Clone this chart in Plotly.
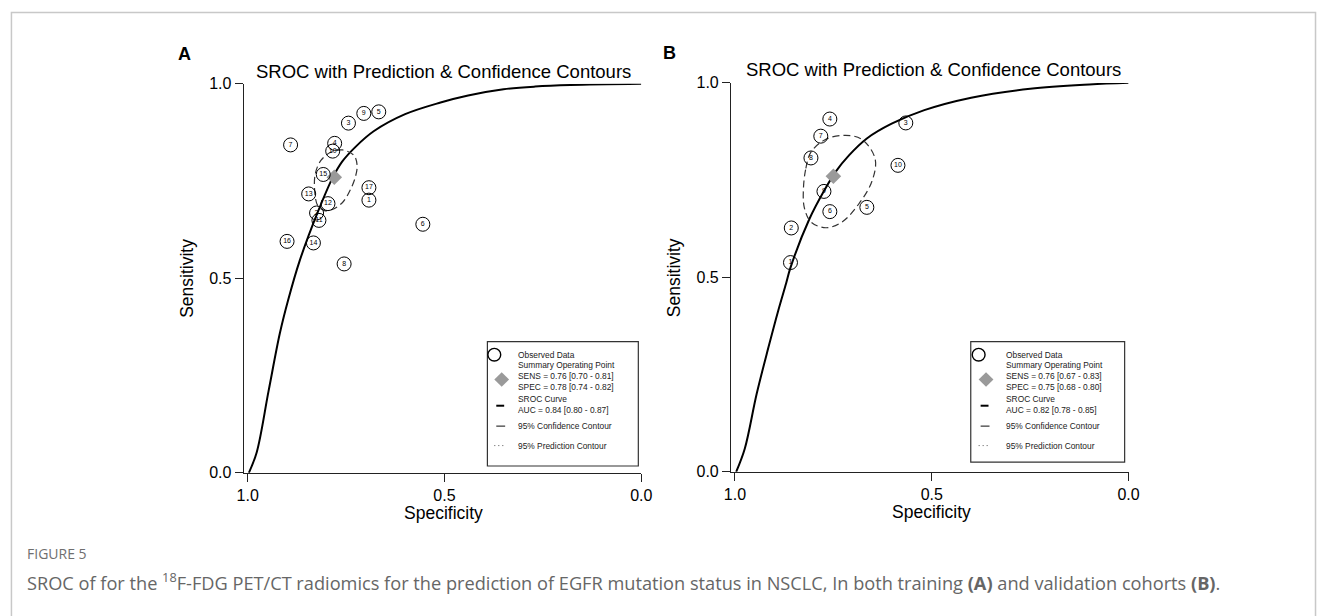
import plotly.graph_objects as go

W, H = 1328, 616

# ---------------- data ----------------
# Panel A: training cohort, 17 studies
a_ids = [str(i) for i in range(1, 18)]
a_spec = [0.692, 0.825, 0.744, 0.779, 0.667, 0.555, 0.891, 0.755, 0.705, 0.784,
          0.819, 0.796, 0.845, 0.833, 0.808, 0.900, 0.692]
a_sens = [0.701, 0.668, 0.899, 0.847, 0.928, 0.639, 0.843, 0.537, 0.924, 0.827,
          0.649, 0.692, 0.717, 0.591, 0.767, 0.595, 0.733]
a_sum_spec = [0.78]
a_sum_sens = [0.76]
a_curve_spec = [0.997, 0.977, 0.947, 0.918, 0.897, 0.868, 0.822, 0.785, 0.76, 0.726,
                0.68, 0.60, 0.51, 0.44, 0.35, 0.27, 0.18, 0.0]
a_curve_sens = [0.0, 0.053, 0.21, 0.36, 0.445, 0.545, 0.67, 0.757, 0.80, 0.838,
                0.878, 0.922, 0.952, 0.970, 0.986, 0.993, 0.997, 1.0]
a_ell_spec = [0.830, 0.828, 0.814, 0.789, 0.759, 0.730, 0.722, 0.726, 0.739, 0.759,
              0.785, 0.805, 0.822, 0.830]
a_ell_sens = [0.728, 0.770, 0.803, 0.824, 0.830, 0.816, 0.791, 0.762, 0.728, 0.695,
              0.677, 0.674, 0.687, 0.728]
a_legend = ["Observed Data",
            "Summary Operating Point<br>SENS = 0.76 [0.70 - 0.81]<br>SPEC = 0.78 [0.74 - 0.82]",
            "SROC Curve<br>AUC = 0.84 [0.80 - 0.87]",
            "95% Confidence Contour", "95% Prediction Contour"]

# Panel B: validation cohort, 10 studies
b_ids = [str(i) for i in range(1, 11)]
b_spec = [0.859, 0.857, 0.566, 0.759, 0.665, 0.759, 0.782, 0.807, 0.774, 0.586]
b_sens = [0.538, 0.627, 0.897, 0.907, 0.680, 0.669, 0.863, 0.807, 0.721, 0.788]
b_sum_spec = [0.75]
b_sum_sens = [0.76]
b_curve_spec = [0.997, 0.975, 0.945, 0.915, 0.89, 0.87, 0.859, 0.811, 0.774, 0.744,
                0.711, 0.665, 0.602, 0.519, 0.40, 0.25, 0.10, 0.0]
b_curve_sens = [0.0, 0.06, 0.2, 0.32, 0.415, 0.485, 0.525, 0.65, 0.722, 0.772,
                0.813, 0.857, 0.895, 0.93, 0.962, 0.985, 0.996, 1.0]
b_ell_spec = [0.826, 0.820, 0.807, 0.769, 0.719, 0.678, 0.644, 0.652, 0.686, 0.728,
              0.769, 0.807, 0.824, 0.826]
b_ell_sens = [0.730, 0.780, 0.822, 0.855, 0.865, 0.855, 0.805, 0.747, 0.688, 0.6425,
              0.6275, 0.6425, 0.680, 0.730]
b_legend = ["Observed Data",
            "Summary Operating Point<br>SENS = 0.76 [0.67 - 0.83]<br>SPEC = 0.75 [0.68 - 0.80]",
            "SROC Curve<br>AUC = 0.82 [0.78 - 0.85]",
            "95% Confidence Contour", "95% Prediction Contour"]

tick_vals = [1.0, 0.5, 0.0]
tick_text = ["1.0", "0.5", "0.0"]
title_text = "SROC with Prediction &amp; Confidence Contours"

# ---------------- helpers ----------------
def px(x):
    return x / W

def py(y):
    return 1 - y / H

FONT = "Liberation Sans, Arial, sans-serif"

fig = go.Figure()

panels = [
    dict(xa="x", ya="y", ids=a_ids, spec=a_spec, sens=a_sens, ss=a_sum_spec, se=a_sum_sens,
         cs=a_curve_spec, ce=a_curve_sens, es=a_ell_spec, ee=a_ell_sens, leg=a_legend,
         xdom=(240, 643), ydom=(78, 478), letter="A", letter_pos=(180, 47),
         title_pos=(443, 65), xt_pos=(443, 519), yt_pos=(183, 278),
         box=(487, 343, 640, 471), icon_x=494, text_x=516),
    dict(xa="x2", ya="y2", ids=b_ids, spec=b_spec, sens=b_sens, ss=b_sum_spec, se=b_sum_sens,
         cs=b_curve_spec, ce=b_curve_sens, es=b_ell_spec, ee=b_ell_sens, leg=b_legend,
         xdom=(734, 1137), ydom=(77, 477), letter="B", letter_pos=(672, 46),
         title_pos=(939, 63), xt_pos=(937, 518), yt_pos=(677, 277),
         box=(977, 343, 1133, 467), icon_x=985, text_x=1011),
]

annotations = []
shapes = []

for p in panels:
    # SROC curve
    fig.add_trace(go.Scatter(x=p["cs"], y=p["ce"], xaxis=p["xa"], yaxis=p["ya"], mode="lines",
                             line=dict(color="black", width=2, shape="spline", smoothing=1.0),
                             cliponaxis=False, showlegend=False, hoverinfo="skip"))
    # Confidence contour
    fig.add_trace(go.Scatter(x=p["es"], y=p["ee"], xaxis=p["xa"], yaxis=p["ya"], mode="lines",
                             line=dict(color="#333333", width=1.2, dash="7px,4px",
                                       shape="spline", smoothing=1.0),
                             cliponaxis=False, showlegend=False, hoverinfo="skip"))
    # Summary point
    fig.add_trace(go.Scatter(x=p["ss"], y=p["se"], xaxis=p["xa"], yaxis=p["ya"], mode="markers",
                             marker=dict(symbol="diamond", size=12, color="#9a9a9a",
                                         line=dict(width=0)),
                             cliponaxis=False, showlegend=False, hoverinfo="skip"))
    # Observed studies
    fig.add_trace(go.Scatter(x=p["spec"], y=p["sens"], xaxis=p["xa"], yaxis=p["ya"],
                             mode="markers+text", text=p["ids"], textposition="middle center",
                             textfont=dict(size=7, color="black", family=FONT),
                             marker=dict(symbol="circle-open", size=14, color="black",
                                         line=dict(width=1, color="black")),
                             cliponaxis=False, showlegend=False, hoverinfo="skip"))

    # panel letter
    annotations.append(dict(x=px(p["letter_pos"][0]), y=py(p["letter_pos"][1]), xref="paper",
                            yref="paper", text="<b>%s</b>" % p["letter"], showarrow=False,
                            xanchor="center", yanchor="middle",
                            font=dict(size=18, color="black", family=FONT)))
    # title
    annotations.append(dict(x=px(p["title_pos"][0]), y=py(p["title_pos"][1]), xref="paper",
                            yref="paper", text=title_text, showarrow=False,
                            xanchor="center", yanchor="middle",
                            font=dict(size=18.5, color="black", family=FONT)))
    # axis titles
    annotations.append(dict(x=px(p["xt_pos"][0]), y=py(p["xt_pos"][1]), xref="paper",
                            yref="paper", text="Specificity", showarrow=False,
                            xanchor="center", yanchor="middle",
                            font=dict(size=17.5, color="black", family=FONT)))
    annotations.append(dict(x=px(p["yt_pos"][0]), y=py(p["yt_pos"][1]), xref="paper",
                            yref="paper", text="Sensitivity", showarrow=False, textangle=-90,
                            xanchor="center", yanchor="middle",
                            font=dict(size=17.5, color="black", family=FONT)))

    # legend box
    x0, y0, x1, y1 = p["box"]
    shapes.append(dict(type="rect", xref="paper", yref="paper", x0=px(x0), x1=px(x1),
                       y0=py(y1), y1=py(y0), line=dict(color="#333333", width=1.2)))
    ix, tx = p["icon_x"], p["text_x"]
    # circle icon
    shapes.append(dict(type="circle", xref="paper", yref="paper", x0=px(ix - 6.5),
                       x1=px(ix + 6.5), y0=py(y0 + 20), y1=py(y0 + 7),
                       line=dict(color="black", width=1.4)))
    # diamond icon
    dcx, dcy = ix + 7.5, y0 + 39
    shapes.append(dict(type="path", xref="paper", yref="paper",
                       path="M %f %f L %f %f L %f %f L %f %f Z" % (
                           px(dcx), py(dcy - 7.5), px(dcx + 7.5), py(dcy),
                           px(dcx), py(dcy + 7.5), px(dcx - 7.5), py(dcy)),
                       fillcolor="#9a9a9a", line=dict(width=0)))
    # SROC line icon
    shapes.append(dict(type="line", xref="paper", yref="paper", x0=px(ix + 2), x1=px(ix + 10),
                       y0=py(y0 + 66), y1=py(y0 + 66), line=dict(color="black", width=2)))
    # confidence icon
    shapes.append(dict(type="line", xref="paper", yref="paper", x0=px(ix + 2), x1=px(ix + 11),
                       y0=py(y0 + 87), y1=py(y0 + 87), line=dict(color="#333333", width=1.2)))
    # prediction icon (dots)
    shapes.append(dict(type="line", xref="paper", yref="paper", x0=px(ix), x1=px(ix + 10),
                       y0=py(y0 + 107), y1=py(y0 + 107),
                       line=dict(color="#555555", width=1, dash="1px,3px")))
    leg_y = [y0 + 13.5, y0 + 35, y0 + 64.5, y0 + 87, y0 + 107]
    for t, yy in zip(p["leg"], leg_y):
        annotations.append(dict(x=px(tx), y=py(yy), xref="paper", yref="paper", text=t,
                                showarrow=False, xanchor="left", yanchor="middle", align="left",
                                font=dict(size=8.4, color="#222222", family=FONT)))

# caption
annotations.append(dict(x=px(18), y=py(561), xref="paper", yref="paper", text="FIGURE 5",
                        showarrow=False, xanchor="left", yanchor="middle",
                        font=dict(size=14, color="#6f6f6f", family="Open Sans, sans-serif")))
annotations.append(dict(x=px(18), y=py(590), xref="paper", yref="paper",
                        text="SROC of for the <sup>18</sup>F-FDG PET/CT radiomics for the prediction "
                             "of EGFR mutation status in NSCLC, In both training <b>(A)</b> and "
                             "validation cohorts <b>(B)</b>.",
                        showarrow=False, xanchor="left", yanchor="middle",
                        font=dict(size=18.2, color="#666666", family="Open Sans, sans-serif")))

# outer frame
shapes.append(dict(type="rect", xref="paper", yref="paper", x0=px(4.5), x1=px(1326.5),
                   y0=-0.05, y1=py(4.5), line=dict(color="#c8c8c8", width=1.5)))

axis_common = dict(range=[1.01, 0.0], tickvals=tick_vals, ticktext=tick_text,
                   showline=True, linecolor="#222222", linewidth=1.2, ticks="outside",
                   ticklen=8, tickwidth=1.2, tickcolor="#222222", showgrid=False,
                   zeroline=False, tickfont=dict(size=16, color="black", family=FONT))
yaxis_common = dict(range=[0.0, 1.0], tickvals=tick_vals, ticktext=tick_text,
                    showline=True, linecolor="#222222", linewidth=1.2, ticks="outside",
                    ticklen=8, tickwidth=1.2, tickcolor="#222222", showgrid=False,
                    zeroline=False, tickfont=dict(size=16, color="black", family=FONT))

pa, pb = panels
fig.update_layout(
    width=W, height=H, margin=dict(l=0, r=0, t=0, b=0),
    paper_bgcolor="white", plot_bgcolor="white", showlegend=False,
    xaxis=dict(domain=[px(pa["xdom"][0]), px(pa["xdom"][1])], anchor="y", **axis_common),
    yaxis=dict(domain=[py(pa["ydom"][1]), py(pa["ydom"][0])], anchor="x", **yaxis_common),
    xaxis2=dict(domain=[px(pb["xdom"][0]), px(pb["xdom"][1])], anchor="y2", **axis_common),
    yaxis2=dict(domain=[py(pb["ydom"][1]), py(pb["ydom"][0])], anchor="x2", **yaxis_common),
    annotations=annotations, shapes=shapes,
)

fig.write_html("out.html")
